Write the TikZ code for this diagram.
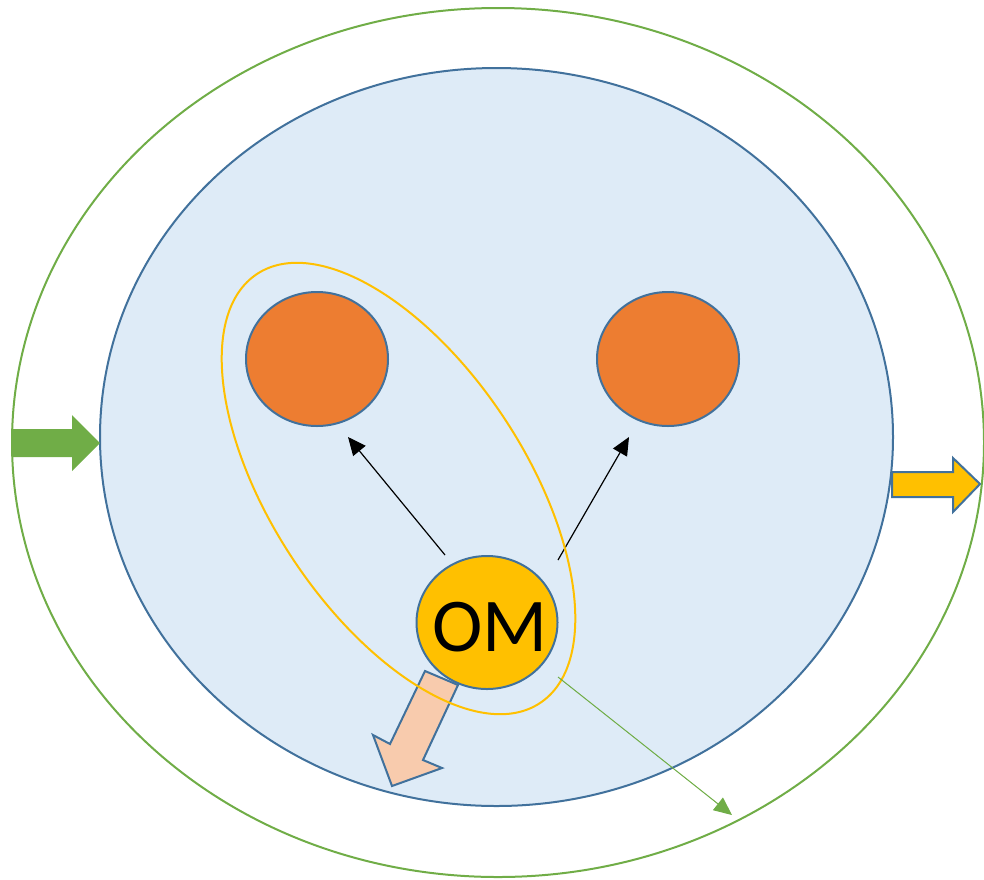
\documentclass[tikz,border=0pt]{standalone}
\usepackage{fontspec}
\setmainfont{Carlito}
\usetikzlibrary{shapes.geometric,arrows.meta}
\definecolor{edgeblue}{HTML}{41719C}
\definecolor{paleblue}{HTML}{DEEBF7}
\definecolor{leafgreen}{HTML}{70AD47}
\definecolor{ember}{HTML}{ED7D31}
\definecolor{amber}{HTML}{FFC000}
\definecolor{peach}{HTML}{F8CBAD}

\begin{document}
\begin{tikzpicture}[x=1pt,y=-1pt,
  blob/.style={ellipse, draw=edgeblue, line width=2pt, inner sep=0pt},
  ring/.style={ellipse, line width=2pt, inner sep=0pt},
  pointer/.style={line width=1.2pt, -{Triangle[length=18pt,width=16pt]}}]

\useasboundingbox (0,0) rectangle (984,879);

\node (world) [ring, draw=leafgreen, minimum width=972pt, minimum height=869pt] at (498,442.5) {};
\node (cell) [blob, fill=paleblue, minimum width=793pt, minimum height=738pt] at (496.5,437) {};

\node (left) [blob, fill=ember, minimum width=142pt, minimum height=134pt] at (317,359) {};
\node (right) [blob, fill=ember, minimum width=142pt, minimum height=134pt] at (668,359) {};
\node (om) [blob, fill=amber, minimum width=141pt, minimum height=133pt] at (487,622.5) {};
\node (omtext) [font=\fontsize{76}{80}\selectfont] at (490,627) {OM};

% block arrows
\draw[fill=leafgreen, draw=none] (12,429) -- (72,429) -- (72,415) -- (100,443) -- (72,471) -- (72,457) -- (12,457) -- cycle;
\draw[fill=amber, draw=edgeblue, line width=2pt] (892,472) -- (953,472) -- (953,458) -- (980,484) -- (953,512) -- (953,497) -- (892,497) -- cycle;
\draw[fill=peach, draw=edgeblue, line width=2pt] (425,671) -- (458,685) -- (423,760) -- (442,768) -- (392,786) -- (373,735) -- (390,744) -- cycle;

\coordinate (omnw) at (445,555);
\coordinate (omne) at (558,560);
\coordinate (omse) at (558,677);
\coordinate (lefttip) at (348,437);
\coordinate (righttip) at (629,437);
\coordinate (outtip) at (732,815);

\draw[pointer] (omnw) -- (lefttip);
\draw[pointer] (omne) -- (righttip);

\node (group) [ring, draw=amber, minimum width=514pt, minimum height=254pt, rotate=-56.6] at (398.5,488.5) {};

\draw[pointer, draw=leafgreen, fill=leafgreen, line width=1pt] (omse) -- (outtip);

\end{tikzpicture}
\end{document}
